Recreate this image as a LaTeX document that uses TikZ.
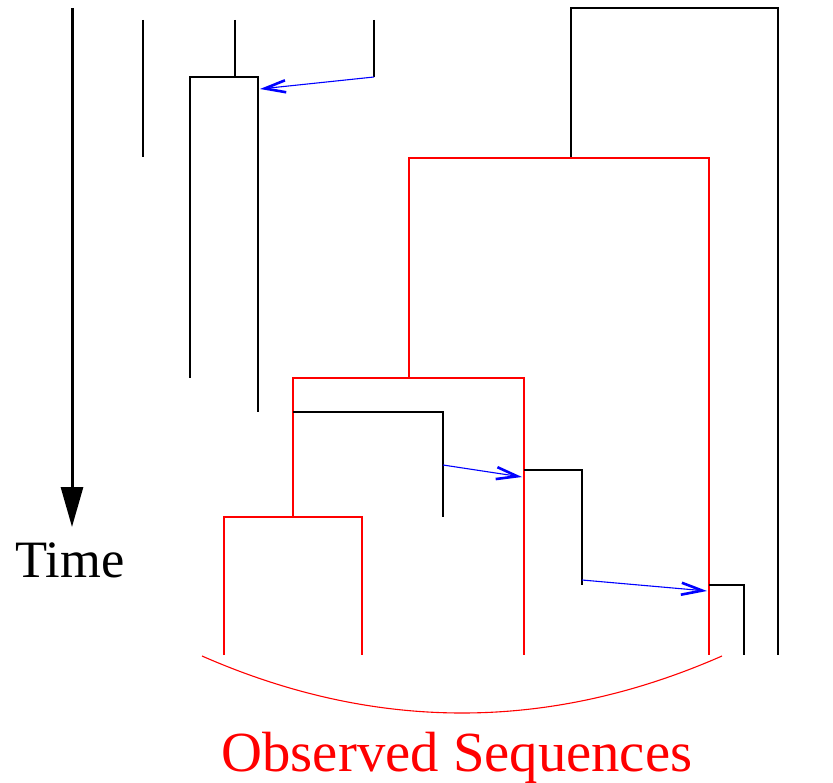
\documentclass[tikz,border=0pt]{standalone}
\usepackage{fontspec}
\setmainfont{Liberation Serif}
\usetikzlibrary{arrows.meta}
\tikzset{
  lin/.style={black, line width=1.1pt},
  obs/.style={red, line width=1.1pt},
  mig/.style={blue, line width=1.1pt, -{Straight Barb[length=21pt,width=12pt,line width=2.6pt]}},
  timeax/.style={black, line width=3pt, -{Triangle[length=40pt,width=22pt]}}
}
\begin{document}
\begin{tikzpicture}[x=1pt,y=-1pt]
\useasboundingbox (0,0) rectangle (833,783);

% time axis
\coordinate (t0) at (72,8);
\coordinate (t1) at (72,527);
\draw[timeax] (t0) -- (t1);
\node[anchor=base, font=\fontsize{52.5}{60}\selectfont] (time) at (70,577) {Time};

% extinct lineages on the left
\coordinate (a0) at (143,20);  \coordinate (a1) at (143,157);
\draw[lin] (a0) -- (a1);
\coordinate (b0) at (235,20);  \coordinate (bj) at (235,77);
\coordinate (bl) at (190,77);  \coordinate (bl1) at (190,378);
\coordinate (br) at (258,77);  \coordinate (br1) at (258,412);
\draw[lin] (b0) -- (bj);
\draw[lin] (bl1) -- (bl) -- (br) -- (br1);
\coordinate (c0) at (374,20);  \coordinate (c1) at (374,77);
\draw[lin] (c0) -- (c1);
\coordinate (m1) at (260,89);
\draw[mig] (c1) -- (m1);

% outgroup lineage
\coordinate (o0) at (571,158); \coordinate (o1) at (571,8);
\coordinate (o2) at (778,8);   \coordinate (o3) at (778,655);
\draw[lin] (o0) -- (o1) -- (o2) -- (o3);

% observed genealogy
\coordinate (r0) at (409,378); \coordinate (r1) at (409,158);
\coordinate (r2) at (709,158); \coordinate (r3) at (709,655);
\draw[obs] (r0) -- (r1) -- (r2) -- (r3);
\coordinate (s0) at (293,517); \coordinate (s1) at (293,378);
\coordinate (s2) at (524,378); \coordinate (s3) at (524,655);
\draw[obs] (s0) -- (s1) -- (s2) -- (s3);
\coordinate (u0) at (224,655); \coordinate (u1) at (224,517);
\coordinate (u2) at (362,517); \coordinate (u3) at (362,655);
\draw[obs] (u0) -- (u1) -- (u2) -- (u3);

% migrating lineages
\coordinate (d0) at (293,412); \coordinate (d1) at (443,412);
\coordinate (d2) at (443,517); \coordinate (dm) at (443,465);
\draw[lin] (d0) -- (d1) -- (d2);
\coordinate (m2) at (522,477);
\draw[mig] (dm) -- (m2);
\coordinate (e0) at (524,470); \coordinate (e1) at (582,470);
\coordinate (e2) at (582,585); \coordinate (em) at (582,580);
\draw[lin] (e0) -- (e1) -- (e2);
\coordinate (m3) at (707,591);
\draw[mig] (em) -- (m3);
\coordinate (f0) at (709,585); \coordinate (f1) at (744,585);
\coordinate (f2) at (744,655);
\draw[lin] (f0) -- (f1) -- (f2);

% brace over the sampled tips
\coordinate (gL) at (202,656); \coordinate (gR) at (722,656);
\draw[obs] (gL) .. controls (375,732) and (549,732) .. (gR);
\node[anchor=base, red, font=\fontsize{56.7}{64}\selectfont] (obslab) at (457,771) {Observed Sequences};
\end{tikzpicture}
\end{document}
